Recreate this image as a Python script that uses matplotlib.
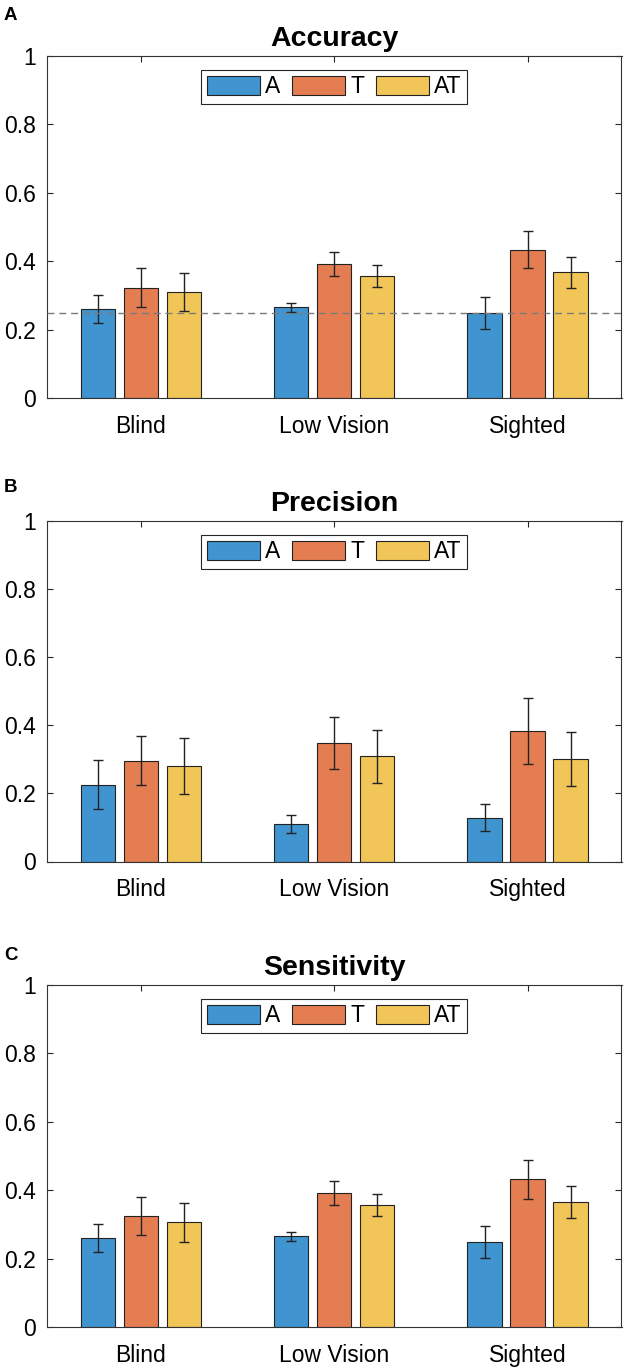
import numpy as np
import matplotlib
matplotlib.use('Agg')
import matplotlib.pyplot as plt

plt.rcParams['font.family'] = ['Liberation Sans', 'DejaVu Sans']

# 数据
groups = ['Blind', 'Low Vision', 'Sighted']
conds = ['A', 'T', 'AT']
colors = ['#4095D0', '#E47E52', '#F2C558']

acc_A = [0.260, 0.265, 0.249]
acc_T = [0.323, 0.391, 0.434]
acc_AT = [0.309, 0.357, 0.367]
acc_err_A = [0.041, 0.013, 0.047]
acc_err_T = [0.056, 0.035, 0.055]
acc_err_AT = [0.056, 0.032, 0.045]

prec_A = [0.226, 0.111, 0.129]
prec_T = [0.296, 0.348, 0.384]
prec_AT = [0.281, 0.309, 0.301]
prec_err_A = [0.073, 0.027, 0.040]
prec_err_T = [0.072, 0.075, 0.097]
prec_err_AT = [0.082, 0.077, 0.078]

sens_A = [0.260, 0.265, 0.249]
sens_T = [0.324, 0.391, 0.432]
sens_AT = [0.306, 0.357, 0.365]
sens_err_A = [0.041, 0.013, 0.047]
sens_err_T = [0.056, 0.035, 0.057]
sens_err_AT = [0.057, 0.031, 0.047]

chance = 0.25

W, H = 624, 1371
fig = plt.figure(figsize=(W / 100, H / 100), dpi=100)

# 每个面板: (top_px, bottom_px, 标题, 字母, 字母y, 数据)
panels = [
    (56, 398, 'Accuracy', 'A', 16, [acc_A, acc_T, acc_AT], [acc_err_A, acc_err_T, acc_err_AT]),
    (521, 861.5, 'Precision', 'B', 487, [prec_A, prec_T, prec_AT], [prec_err_A, prec_err_T, prec_err_AT]),
    (985, 1327, 'Sensitivity', 'C', 955, [sens_A, sens_T, sens_AT], [sens_err_A, sens_err_T, sens_err_AT]),
]

left_px, right_px = 47, 621.5
x = np.arange(1, 4)
offs = [-0.2222, 0, 0.2222]
bw = 0.178

for i, (top, bot, title, letter, ly, vals, errs) in enumerate(panels):
    ax = fig.add_axes([left_px / W, 1 - bot / H, (right_px - left_px) / W, (bot - top) / H])
    for k in range(3):
        ax.bar(x + offs[k], vals[k], width=bw, color=colors[k], edgecolor='#222222',
               linewidth=0.8, label=conds[k], zorder=2)
        ax.errorbar(x + offs[k], vals[k], yerr=errs[k], fmt='none', ecolor='#222222',
                    elinewidth=1.0, capsize=3.6, capthick=1.0, zorder=3)
    if i == 0:
        ax.axhline(chance, color='#7a7a7a', ls=(0, (5, 3.5)), lw=1.0, zorder=4)

    ax.set_xlim(0.515, 3.485)
    ax.set_ylim(0, 1)
    ax.set_xticks(x)
    ax.set_xticklabels(groups)
    ax.set_yticks([0, 0.2, 0.4, 0.6, 0.8, 1])
    ax.set_yticklabels(['0', '0.2', '0.4', '0.6', '0.8', '1'])
    ax.tick_params(direction='in', top=True, right=True, length=4, width=0.8,
                   colors='#262626', labelcolor='black', labelsize=16.5)
    ax.tick_params(axis='x', pad=12)
    ax.tick_params(axis='y', pad=8)
    for s in ax.spines.values():
        s.set_color('#333333')
        s.set_linewidth(0.8)
    ax.set_title(title, fontsize=20.5, fontweight='bold', pad=7)

    leg = ax.legend(loc='upper center', ncol=3, fontsize=16.5, frameon=True, fancybox=False,
                    framealpha=1, edgecolor='#262626', borderaxespad=0.6,
                    handlelength=2.3, handleheight=0.95, handletextpad=0.25,
                    columnspacing=0.5, borderpad=0.25)
    leg.get_frame().set_linewidth(0.8)

    fig.text(4 / W, 1 - ly / H, letter, fontsize=13.5, fontweight='bold', ha='left', va='center')

plt.savefig('out.png', dpi=100)
